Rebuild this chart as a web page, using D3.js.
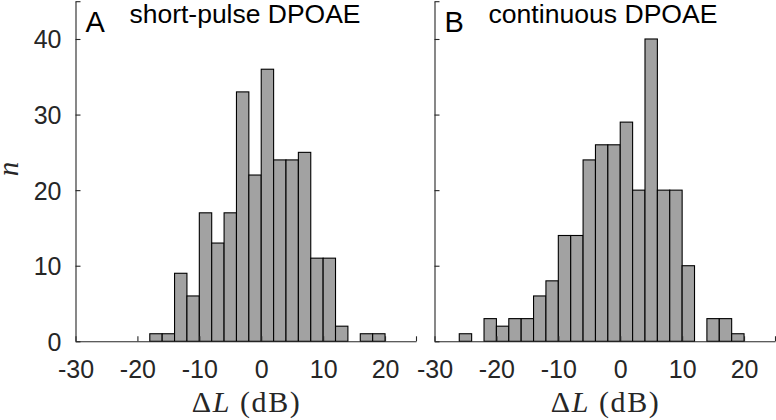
<!DOCTYPE html>
<html><head><meta charset="utf-8">
<script src="https://cdn.jsdelivr.net/npm/d3@7"></script>
<style>body{margin:0;background:#fff}svg{display:block}</style>
</head><body>
<svg id="chart" width="776" height="420"></svg>
<script>
// Bin edges (dB), bin width 2
const binStartsA = [-18,-16,-14,-12,-10,-8,-6,-4,-2,0,2,4,6,8,10,12,14,16,18];
const countsA    = [  1,  1,  9,  6, 17,13,17,33,22,36,24,24,25,11,11, 2, 0, 1, 1];
const binStartsB = [-26,-24,-22,-20,-18,-16,-14,-12,-10,-8,-6,-4,-2,0,2,4,6,8,10,12,14,16,18];
const countsB    = [  1,  0,  3,  2,  3,  3,  6,  8, 14,14,24,26,26,29,20,40,20,20,10, 0, 3, 3, 1];
const binWidth = 2;
const xTicks = [-30,-20,-10,0,10,20];
const yTicks = [0,10,20,30,40];
const xDomain = [-30,25];
const yDomain = [0,45];
const panels = [
  {letter:"A", title:"short-pulse DPOAE", starts:binStartsA, counts:countsA, x0:75.5, x1:416, yLabels:true},
  {letter:"B", title:"continuous DPOAE", starts:binStartsB, counts:countsB, x0:434.5, x1:775, yLabels:false}
];

const svg = d3.select("#chart");
const axisColor = "#262626";
const sans = "'Liberation Sans', Arial, Helvetica, sans-serif";
const serif = "'Liberation Serif', 'Times New Roman', serif";
const y = d3.scaleLinear().domain(yDomain).range([341.3, 1.2]);

panels.forEach(p => {
  const x = d3.scaleLinear().domain(xDomain).range([p.x0, p.x1]);
  const g = svg.append("g");
  // bars
  g.selectAll("rect.bar").data(p.starts.map((s,i)=>({s, c:p.counts[i]})).filter(d=>d.c>0))
    .enter().append("rect")
    .attr("x", d=>x(d.s)).attr("width", d=>x(d.s+binWidth)-x(d.s))
    .attr("y", d=>y(d.c)).attr("height", d=>y(0)-y(d.c))
    .attr("fill","#a2a2a2").attr("stroke","#000").attr("stroke-width",1.1);

  // x axis (ticks inside)
  const xAxis = d3.axisBottom(x).tickValues(xTicks.concat([xDomain[1]])).tickSizeInner(-5).tickSizeOuter(0)
    .tickFormat(d => xTicks.includes(d) ? d3.format("d")(d).replace("−","-") : "");
  const gx = g.append("g").attr("transform",`translate(0,${y(0)})`).call(xAxis);
  gx.select(".domain").attr("stroke",axisColor).attr("stroke-width",1.1);
  gx.selectAll(".tick line").attr("stroke",axisColor).attr("stroke-width",1.1);
  gx.selectAll(".tick text").attr("fill",axisColor).attr("font-family",sans)
    .attr("font-size",25).attr("dy",0).attr("y",37);

  // y axis
  const yAxis = d3.axisLeft(y).tickValues(yTicks.concat([yDomain[1]])).tickSizeInner(-5).tickSizeOuter(0)
    .tickFormat(d => (p.yLabels && yTicks.includes(d)) ? d : "");
  const gy = g.append("g").attr("transform",`translate(${p.x0},0)`).call(yAxis);
  gy.select(".domain").attr("stroke",axisColor).attr("stroke-width",1.1);
  gy.selectAll(".tick line").attr("stroke",axisColor).attr("stroke-width",1.1);
  gy.selectAll(".tick text").attr("fill",axisColor).attr("font-family",sans)
    .attr("font-size",25).attr("x",-14).attr("dy","0.36em");

  // panel letter and title
  g.append("text").attr("x", p.x0+10).attr("y", 32).text(p.letter)
    .attr("font-family",sans).attr("font-size",29).attr("fill","#000");
  g.append("text").attr("x", p.x0+54).attr("y", 23).text(p.title)
    .attr("font-family",sans).attr("font-size",25).attr("fill","#000")
    .attr("textLength", p.letter==="A" ? 231 : 229).attr("lengthAdjust","spacingAndGlyphs");

  // x label
  const xl = g.append("text").attr("x",(p.x0+p.x1)/2).attr("y",412).attr("text-anchor","middle")
    .attr("font-family",serif).attr("font-size",30).attr("fill",axisColor)
    .attr("textLength",108).attr("lengthAdjust","spacing");
  xl.append("tspan").text("Δ");
  xl.append("tspan").attr("font-style","italic").text("L");
  xl.append("tspan").text(" (dB)");
});

// y label
svg.append("text").attr("transform","translate(18,169) rotate(-90)").attr("text-anchor","middle")
  .attr("font-family",serif).attr("font-style","italic")
  .attr("font-size",29).attr("fill",axisColor).text("n");
</script>
</body></html>
